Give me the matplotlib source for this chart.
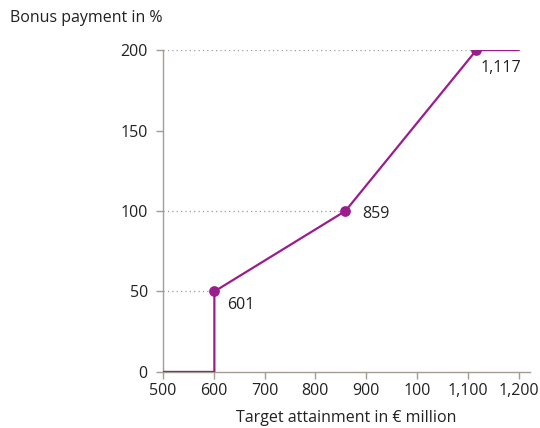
import matplotlib
matplotlib.use("Agg")
import matplotlib.pyplot as plt

plt.rcParams['font.family'] = ['Open Sans', 'DejaVu Sans']

# Bonus curve: target attainment (EUR million) vs bonus payment (%)
curve_x = [500, 601, 601, 859, 1117, 1200]
curve_y = [0, 0, 50, 100, 200, 200]
point_x = [601, 859, 1117]
point_y = [50, 100, 200]
point_labels = ["601", "859", "1,117"]
label_offsets = [(13, -6), (17, 5), (4, -10)]
xtick_values = [500, 600, 700, 800, 900, 1000, 1100, 1200]
xtick_labels = ["500", "600", "700", "800", "900", "100", "1,100", "1,200"]
ytick_values = [0, 50, 100, 150, 200]

purple = "#9b1d8d"
axis_col = "#a39d94"
text_col = "#222222"
fs = 11.5

fig = plt.figure(figsize=(5.4, 4.28), dpi=100)
ax = fig.add_axes([0.302, 0.131, 0.679, 0.752])

# dotted guides from the axis to each threshold point
for px, py in zip(point_x, point_y):
    ax.plot([500, px], [py, py], linestyle=(0, (1, 2.5)), color="#9a9a9a",
            linewidth=0.9, zorder=1)

ax.plot(curve_x, curve_y, color=purple, linewidth=1.6, zorder=3,
        solid_joinstyle="miter")
ax.scatter(point_x, point_y, s=45, color=purple, zorder=4)

for px, py, lab, off in zip(point_x, point_y, point_labels, label_offsets):
    ax.annotate(lab, (px, py), xytext=off, textcoords="offset pixels",
                ha="left", va="top", fontsize=fs, color=text_col)

ax.set_xlim(500, 1222)
ax.set_ylim(0, 200)
ax.set_xticks(xtick_values)
ax.set_xticklabels(xtick_labels)
ax.set_yticks(ytick_values)

for side in ("top", "right"):
    ax.spines[side].set_visible(False)
for side in ("left", "bottom"):
    ax.spines[side].set_color(axis_col)
    ax.spines[side].set_linewidth(1.0)
ax.spines["bottom"].set_zorder(2)

ax.tick_params(axis="both", colors=axis_col, labelcolor=text_col,
               labelsize=fs, length=5, width=1.0, direction="out")
ax.tick_params(axis="x", pad=3)
ax.tick_params(axis="y", pad=6)

ax.set_xlabel("Target attainment in € million", fontsize=fs,
              color=text_col, labelpad=8)
fig.text(0.018, 0.958, "Bonus payment in %", fontsize=fs,
         color=text_col, ha="left", va="center")

fig.savefig("out.png", dpi=100)
